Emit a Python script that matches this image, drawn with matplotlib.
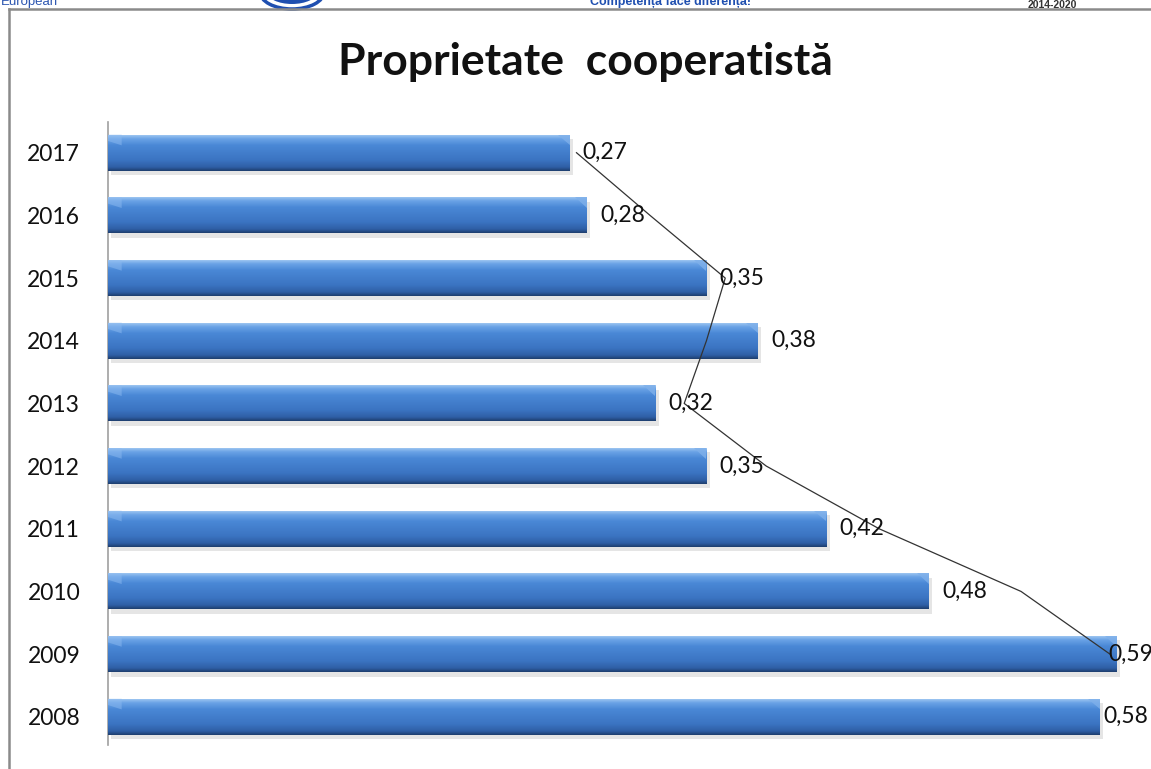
import numpy as np
import matplotlib
matplotlib.use("Agg")
import matplotlib.pyplot as plt
from matplotlib.lines import Line2D
from matplotlib.patches import Ellipse, Polygon
from matplotlib.colors import LinearSegmentedColormap

# ── data ──
years = ["2017", "2016", "2015", "2014", "2013", "2012", "2011", "2010", "2009", "2008"]
values = [0.27, 0.28, 0.35, 0.38, 0.32, 0.35, 0.42, 0.48, 0.59, 0.58]
value_labels = ["0,27", "0,28", "0,35", "0,38", "0,32", "0,35", "0,42", "0,48", "0,59", "0,58"]
# thin black line drawn over the bars
line_values = [0.274, 0.317, 0.361, 0.350, 0.337, 0.385, 0.451, 0.534, 0.586, np.nan]

W, H = 1151, 769
fig = plt.figure(figsize=(W / 100, H / 100), dpi=100)
plt.rcParams["font.family"] = ["Lato", "DejaVu Sans"]

ax = fig.add_axes([108 / W, 1 - 745 / H, 1 - 108 / W, (745 - 122) / H])

ypos = np.arange(len(years))
bar_h = 0.575

grad = LinearSegmentedColormap.from_list(
    "bevel", [(0.0, "#a9cdf3"), (0.12, "#6aa3e6"), (0.3, "#4a88d6"),
              (0.7, "#3b74c2"), (0.9, "#2f5fa6"), (1.0, "#1e3f70")])
gimg = np.linspace(0, 1, 64).reshape(-1, 1)

# shadows under the bars
ax.barh(ypos + 0.07, values, height=bar_h, left=0.002, color="#000000", alpha=0.1, zorder=1)
bars = ax.barh(ypos, values, height=bar_h, color="#3b74c2", zorder=2)

for b, v, y in zip(bars, values, ypos):
    top, bot = y - bar_h / 2, y + bar_h / 2
    im = ax.imshow(gimg, cmap=grad, extent=(0, v, bot, top), origin="upper",
                   aspect="auto", zorder=3, interpolation="bilinear")
    im.set_clip_path(b)
    # bevel corners
    ax.add_patch(Polygon([(v - 0.007, top), (v, top), (v, top + 0.17)],
                         closed=True, color="#7fb0ea", alpha=0.8, zorder=4, lw=0))
    ax.add_patch(Polygon([(0, top), (0.008, top), (0.008, top + 0.17), (0, top + 0.1)],
                         closed=True, color="#8cbaf0", alpha=0.5, zorder=4, lw=0))

# labels near the right edge get pushed back onto the bar, as in the original
for v, y, lab in zip(values, ypos, value_labels):
    dx = 9.5 if v < 0.55 else (-6 if v > 0.585 else 3)
    ax.annotate(lab, (v, y), xytext=(dx, 0), textcoords="offset points",
                ha="left", va="center", fontsize=16.5, color="#111111",
                annotation_clip=False, zorder=6)

ax.plot(line_values, ypos, color="#333333", lw=0.9, zorder=5)

ax.set_xlim(0, 0.61)
ax.set_ylim(9.45, -0.49)
ax.set_yticks(ypos)
ax.set_yticklabels(years, fontsize=16.5, color="#111111")
ax.tick_params(axis="y", length=0, pad=20)
ax.set_xticks([])
for s in ["top", "right", "bottom"]:
    ax.spines[s].set_visible(False)
ax.spines["left"].set_color("#a0a0a0")
ax.spines["left"].set_linewidth(1.2)

fig.text(585 / W, 1 - 62 / H, "Proprietate  cooperatistă", ha="center", va="center",
         fontsize=32, fontweight="bold", color="#111111")

# page frame
fig.add_artist(Line2D([9 / W, 9 / W], [0, 1 - 9 / H], color="#8a8a8a", lw=1.8))
fig.add_artist(Line2D([9 / W, 1], [1 - 9 / H, 1 - 9 / H], color="#8a8a8a", lw=1.8))

# cut-off header
fig.text(1 / W, 1 - 5 / H, "European", ha="left", va="baseline", fontsize=9.5,
         color="#2b55b0", family="Liberation Sans")
fig.text(670 / W, 1 - 5 / H, "Competența face diferența!", ha="center", va="baseline",
         fontsize=9, fontweight="bold", color="#1f4fb0", family="Liberation Sans")
fig.text(1052 / W, 1 - 8 / H, "2014-2020", ha="center", va="baseline", fontsize=7.5,
         fontweight="bold", color="#333333", family="Liberation Sans")
fig.add_artist(Ellipse((292 / W, 1 + 8 / H), 64 / W, 34 / H, transform=fig.transFigure,
                       facecolor="white", edgecolor="#1f4fb0", lw=2.5))
fig.add_artist(Ellipse((292 / W, 1 + 8 / H), 50 / W, 24 / H, transform=fig.transFigure,
                       facecolor="#1f4fb0", edgecolor="none"))

fig.savefig("out.png", dpi=100)
